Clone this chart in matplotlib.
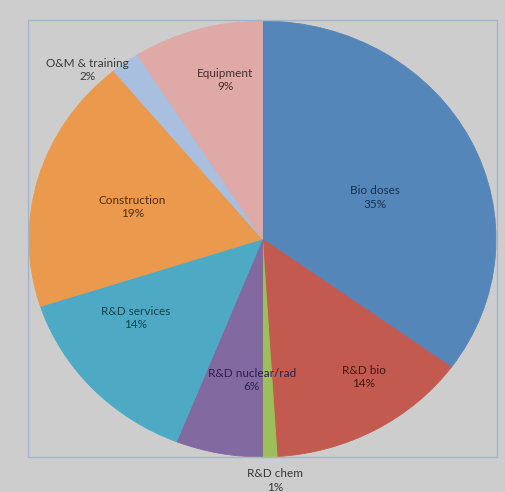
import matplotlib
matplotlib.use("Agg")
import matplotlib.pyplot as plt
from matplotlib.patches import Rectangle

# Budget shares by category (percent), clockwise from 12 o'clock
categories = ["Bio doses", "R&D bio", "R&D chem", "R&D nuclear/rad",
              "R&D services", "Construction", "O&M & training", "Equipment"]
shares = [35, 14, 1, 6, 14, 19, 2, 9]

slice_colors = ["#5586b9", "#c35a50", "#9cbf5a", "#8269a0",
                "#4eaac4", "#eb9a4d", "#a8bfe0", "#dfa9a7"]
label_colors = ["#1a2f50", "#431612", "#383838", "#2d2052",
                "#183f4c", "#522d0c", "#383838", "#482c2c"]
# label anchor points in pie units (x, y)
label_pos = [(0.48, 0.19), (0.434, -0.633), (0.053, -1.108), (-0.045, -0.647),
             (-0.545, -0.362), (-0.558, 0.147), (-0.75, 0.775), (-0.16, 0.729)]

W, H = 505, 492
fig = plt.figure(figsize=(W / 100, H / 100), dpi=100)
fig.patch.set_facecolor("#cdcdcd")

# axes spans the plot frame; the pie fills it (slightly wider than tall)
left, right, top, bottom = 29, 496, 21, 457
ax = fig.add_axes([left / W, 1 - bottom / H, (right - left) / W, (bottom - top) / H])
ax.set_facecolor("none")

wedges, _ = ax.pie(shares, colors=slice_colors, startangle=90, counterclock=False,
                   radius=1.0, wedgeprops=dict(linewidth=0.6),
                   labels=None)
for w, c in zip(wedges, slice_colors):
    w.set_edgecolor(c)
ax.set_aspect("auto")
ax.set_xlim(-1, 1)
ax.set_ylim(-1, 1)
ax.axis("off")

# thin frame around the plot area
fig.patches.append(Rectangle((left / W - 0.002, 1 - bottom / H), (right - left) / W + 0.003,
                             (bottom - top) / H + 0.002, transform=fig.transFigure,
                             fill=False, edgecolor="#a3b5cc", linewidth=1.0))

for name, val, (lx, ly), tc in zip(categories, shares, label_pos, label_colors):
    ax.text(lx, ly, f"{name}\n{val}%", ha="center", va="center", fontsize=8.5,
            family="Lato", color=tc, linespacing=1.3, clip_on=False)

fig.savefig("out.png", dpi=100, facecolor=fig.get_facecolor())
